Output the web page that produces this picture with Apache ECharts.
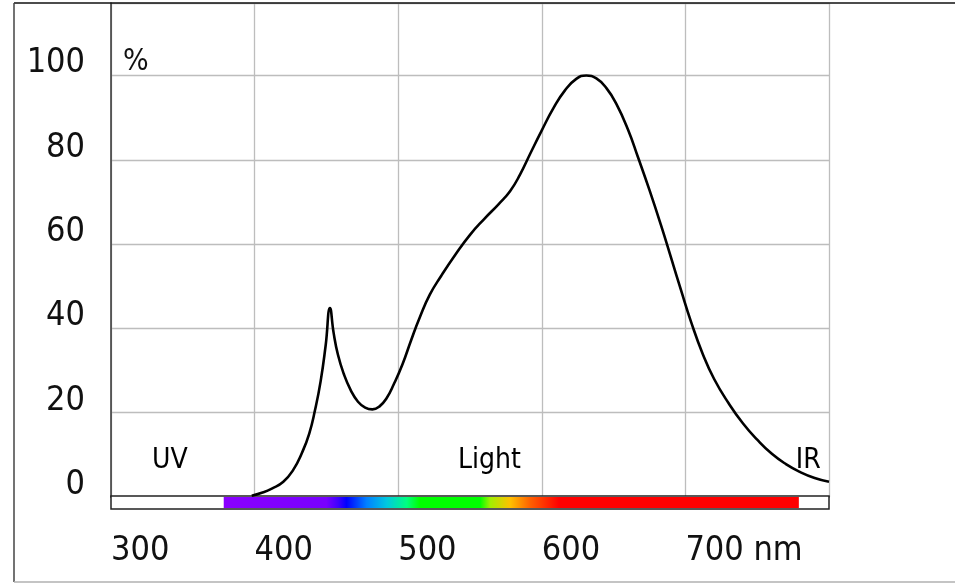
<!DOCTYPE html>
<html>
<head>
<meta charset="utf-8">
<style>
  html, body { margin: 0; padding: 0; background: #ffffff; }
  #chart { width: 955px; height: 583px; }
</style>
<script src="https://cdn.jsdelivr.net/npm/echarts@6/dist/echarts.min.js"></script>
</head>
<body>
<div id="chart"></div>
<script>
// Relative spectral intensity of a white LED (wavelength in nm, intensity in %)
const wavelengths = [
  398, 405, 412, 420, 427, 433, 438, 442, 446, 449.5, 452.5, 455, 458, 462,
  467, 472, 477, 482, 487, 492, 497, 503, 509, 515, 522, 530, 540, 550, 560,
  570, 578, 585, 592, 600, 608, 616, 624, 631, 638, 645, 652, 660, 667, 675,
  683, 690, 697, 704, 712, 720, 730, 740, 750, 760, 770, 780, 790, 800
];
const intensity = [
  0.3, 1.0, 2.0, 3.6, 6.5, 10.5, 15, 20.5, 27.5, 36, 44.8, 39, 33.8, 29.3,
  25.3, 22.6, 21.2, 20.8, 21.5, 23.5, 26.8, 31.5, 37.2, 42.6, 48, 52.5, 57.6, 62.2, 66,
  69.5, 72.6, 76.6, 81.5, 87, 92.2, 96.4, 99.2, 100, 99.3, 97, 93.2, 87.2, 80.6, 72.8,
  64.5, 56.8, 49, 41.5, 34, 28, 22.3, 17.5, 13.6, 10.3, 7.8, 5.9, 4.5, 3.6
];

// Axis extents and tick values
const xMin = 300, xMax = 800, xStep = 100;
const yMin = 0, yMax = 117.2, yStep = 20;

// Visible-light band under the axis: start/end wavelength and colour stops
const spectrumRange = [378.5, 779];
const spectrumStops = [
  [378.5, '#8a00ff'], [450, '#7800ff'], [458, '#4000ff'], [464, '#0000ff'],
  [478, '#0080ff'], [492, '#00c8e0'], [506, '#00ff80'], [515, '#00ff00'],
  [557, '#00ff00'], [564, '#a0f000'], [578, '#ffc000'], [592, '#ff6000'],
  [612, '#ff0000'], [779, '#ff0000']
];

// Region labels placed in data coordinates
const regionLabels = [
  { text: 'UV', at: [341, 8.5] },
  { text: 'Light', at: [563.5, 8.5] },
  { text: 'IR', at: [785.5, 8.5] }
];

const FONT = '"Liberation Sans Narrow", "DejaVu Sans Condensed", sans-serif';

const chart = echarts.init(document.getElementById('chart'), null, { renderer: 'canvas' });

const curveData = wavelengths.map((w, i) => [w, intensity[i]]);

chart.setOption({
  animation: false,
  backgroundColor: '#ffffff',
  grid: { left: 111, right: 126, top: 3, bottom: 86, containLabel: false },
  xAxis: {
    type: 'value',
    min: xMin, max: xMax, interval: xStep,
    offset: 12,
    axisLine: { show: true, lineStyle: { color: '#222', width: 1.5 } },
    axisTick: { show: false },
    splitLine: { show: true, lineStyle: { color: '#bdbdbd', width: 1.3 } },
    axisLabel: {
      color: '#111', fontFamily: FONT, fontSize: 34,
      align: 'left', margin: 24, lineHeight: 36,
      formatter: v => (v === 700 ? '700 nm' : (v === 800 ? '' : String(v)))
    }
  },
  yAxis: {
    type: 'value',
    min: yMin, max: yMax, interval: yStep,
    axisLine: { show: true, lineStyle: { color: '#333', width: 1.5 } },
    axisTick: { show: false },
    splitLine: { show: true, lineStyle: { color: '#bdbdbd', width: 1.3 } },
    axisLabel: {
      color: '#111', fontFamily: FONT, fontSize: 34,
      margin: 26, verticalAlign: 'bottom', lineHeight: 24,
      formatter: v => (v % 20 === 0 ? String(v) : '')
    }
  },
  graphic: [
    { type: 'line', shape: { x1: 14, y1: 3, x2: 955, y2: 3 }, style: { stroke: '#111', lineWidth: 1.5 }, z: 100 },
    { type: 'line', shape: { x1: 14, y1: 3, x2: 14, y2: 582 }, style: { stroke: '#444', lineWidth: 1.5 }, z: 100 },
    { type: 'line', shape: { x1: 14, y1: 582, x2: 955, y2: 582 }, style: { stroke: '#b0b0b0', lineWidth: 1.5 }, z: 100 },
    { type: 'text', left: 123, top: 47, style: { text: '%', font: '30px ' + FONT, fill: '#111' }, z: 100 }
  ],
  series: [
    {
      type: 'custom',
      name: 'spectrum',
      encode: { x: [0, 1] },
      clip: false,
      z: 5,
      data: [spectrumRange],
      renderItem: function (params, api) {
        const a = api.coord([api.value(0), 0]);
        const b = api.coord([api.value(1), 0]);
        const l = api.coord([xMin, 0]);
        const r = api.coord([xMax, 0]);
        const span = spectrumRange[1] - spectrumRange[0];
        const colorStops = spectrumStops.map(s => ({
          offset: (s[0] - spectrumRange[0]) / span,
          color: s[1]
        }));
        return {
          type: 'group',
          children: [
            {
              type: 'rect',
              shape: { x: l[0], y: l[1] - 1, width: r[0] - l[0], height: 13 },
              style: { fill: '#ffffff', stroke: '#222', lineWidth: 1.5 }
            },
            {
              type: 'rect',
              shape: { x: a[0], y: a[1], width: b[0] - a[0], height: 11 },
              style: {
                fill: new echarts.graphic.LinearGradient(0, 0, 1, 0, colorStops)
              }
            }
          ]
        };
      }
    },
    {
      type: 'line',
      name: 'intensity',
      data: curveData,
      smooth: 0.5,
      showSymbol: false,
      symbol: 'none',
      z: 10,
      lineStyle: { color: '#000', width: 2.6 }
    },
    {
      type: 'scatter',
      name: 'regions',
      data: regionLabels.map(d => ({ value: d.at, name: d.text })),
      symbolSize: 0,
      itemStyle: { opacity: 1 },
      z: 11,
      label: {
        show: true, position: 'inside',
        formatter: p => p.name,
        color: '#000', fontFamily: FONT, fontSize: 28,
        textBorderWidth: 0
      }
    }
  ]
});
</script>
</body>
</html>
